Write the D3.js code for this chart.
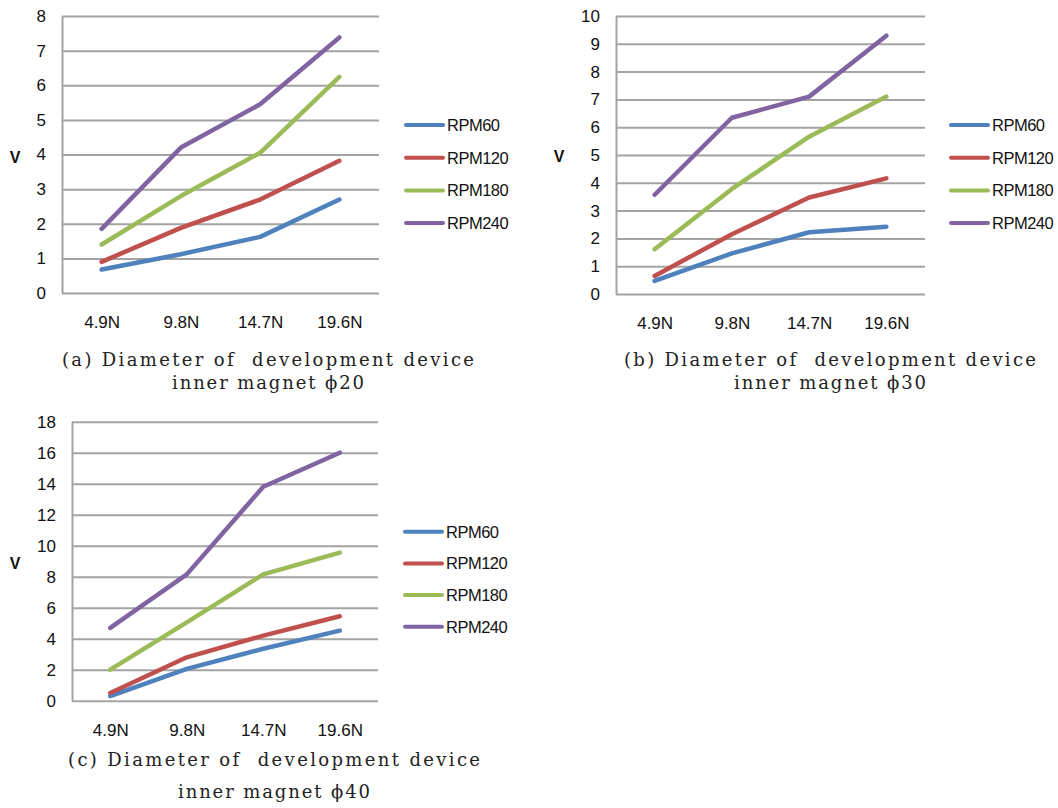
<!DOCTYPE html>
<html>
<head>
<meta charset="utf-8">
<script src="https://cdn.jsdelivr.net/npm/d3@7"></script>
<style>
  html, body { margin: 0; padding: 0; background: #ffffff; }
  svg { display: block; }
  .tick-label { font-family: "Liberation Sans", Arial, sans-serif; font-size: 17px; fill: #111; }
  .legend-label { font-family: "Liberation Sans", Arial, sans-serif; font-size: 16.5px; letter-spacing: -0.5px; fill: #111; }
  .axis-title { font-family: "Liberation Sans", Arial, sans-serif; font-size: 16px; font-weight: bold; fill: #111; }
  .caption { font-family: "DejaVu Serif", "Liberation Serif", serif; font-size: 18px; fill: #222; }
</style>
</head>
<body>
<svg id="chart" width="1058" height="808"></svg>
<script>
// Applied load on the x axis
const forces = ["4.9N", "9.8N", "14.7N", "19.6N"];
// Rotational speeds, one line per speed
const speeds = ["RPM60", "RPM120", "RPM180", "RPM240"];

// Output voltage (V) for the phi20 inner magnet, rows follow `speeds`
const voltsPhi20 = [
  [0.68, 1.12, 1.62, 2.70],
  [0.90, 1.88, 2.70, 3.82],
  [1.40, 2.80, 4.05, 6.24],
  [1.85, 4.20, 5.45, 7.38]
];
// Output voltage (V) for the phi30 inner magnet
const voltsPhi30 = [
  [0.47, 1.46, 2.22, 2.42],
  [0.65, 2.15, 3.47, 4.16],
  [1.61, 3.78, 5.66, 7.10],
  [3.57, 6.34, 7.10, 9.29]
];
// Output voltage (V) for the phi40 inner magnet
const voltsPhi40 = [
  [0.30, 2.05, 3.35, 4.52],
  [0.50, 2.80, 4.20, 5.45],
  [2.00, 5.05, 8.15, 9.55],
  [4.70, 8.15, 13.80, 16.00]
];

// Y axis tick values per panel
const ticksPhi20 = [0, 1, 2, 3, 4, 5, 6, 7, 8];
const ticksPhi30 = [0, 1, 2, 3, 4, 5, 6, 7, 8, 9, 10];
const ticksPhi40 = [0, 2, 4, 6, 8, 10, 12, 14, 16, 18];

// Panel captions
const captionPhi20 = ["(a) Diameter of  development device", "inner magnet \u03d520"];
const captionPhi30 = ["(b) Diameter of  development device", "inner magnet \u03d530"];
const captionPhi40 = ["(c) Diameter of  development device", "inner magnet \u03d540"];

// Series colours
const lineColors = ["#4f81bd", "#c0504d", "#9bbb59", "#8064a2"];
const gridColor = "#a3a3a3";

// Layout of each panel on the page
const panels = [
  { values: voltsPhi20, ticks: ticksPhi20, caption: captionPhi20,
    left: 62, right: 379, top: 16, bottom: 293,
    vx: 15, vy: 157,
    legX: 406, legY: 125, legStep: 32.7,
    capX: 268, capY: [366, 389] },
  { values: voltsPhi30, ticks: ticksPhi30, caption: captionPhi30,
    left: 616, right: 925, top: 16, bottom: 294,
    vx: 559, vy: 156,
    legX: 951, legY: 125, legStep: 32.7,
    capX: 830, capY: [366, 389] },
  { values: voltsPhi40, ticks: ticksPhi40, caption: captionPhi40,
    left: 72, right: 378, top: 421.7, bottom: 700.7,
    vx: 15, vy: 563,
    legX: 405, legY: 531.7, legStep: 31.7,
    capX: 274, capY: [766, 798] }
];

const svg = d3.select("#chart");

panels.forEach(p => {
  const g = svg.append("g");
  const width = p.right - p.left;

  const x = d3.scalePoint().domain(forces).range([p.left, p.right]).padding(0.5);
  const y = d3.scaleLinear()
    .domain([0, d3.max(p.ticks)])
    .range([p.bottom, p.top]);

  // Horizontal gridlines with the value labels on the left
  const yAxis = g.append("g")
    .attr("transform", `translate(${p.left},0)`)
    .call(d3.axisLeft(y).tickValues(p.ticks).tickSize(-width).tickSizeOuter(0).tickPadding(16));
  yAxis.attr("font-size", null).attr("font-family", null);
  yAxis.select(".domain").attr("stroke", gridColor).attr("stroke-width", 2);
  yAxis.selectAll(".tick line").attr("stroke", gridColor).attr("stroke-width", 2);
  yAxis.selectAll(".tick text").attr("class", "tick-label").attr("fill", "#111");

  // Category labels under the plot
  const xAxis = g.append("g")
    .attr("transform", `translate(0,${p.bottom})`)
    .call(d3.axisBottom(x).tickSize(0).tickPadding(23));
  xAxis.select(".domain").remove();
  xAxis.attr("font-size", null).attr("font-family", null);
  xAxis.selectAll(".tick text").attr("class", "tick-label").attr("fill", "#111");

  // Axis title
  g.append("text")
    .attr("class", "axis-title")
    .attr("x", p.vx)
    .attr("y", p.vy)
    .attr("text-anchor", "middle")
    .attr("dominant-baseline", "central")
    .text("V");

  // Data lines
  const line = d3.line()
    .x((d, i) => x(forces[i]))
    .y(d => y(d));

  g.append("g")
    .selectAll("path")
    .data(p.values)
    .join("path")
    .attr("d", line)
    .attr("fill", "none")
    .attr("stroke", (d, i) => lineColors[i])
    .attr("stroke-width", 4.5)
    .attr("stroke-linejoin", "round")
    .attr("stroke-linecap", "round");

  // Legend
  const leg = g.append("g")
    .selectAll("g")
    .data(speeds)
    .join("g")
    .attr("transform", (d, i) => `translate(${p.legX},${p.legY + i * p.legStep})`);
  leg.append("line")
    .attr("x1", 0).attr("x2", 37)
    .attr("y1", 0).attr("y2", 0)
    .attr("stroke", (d, i) => lineColors[i])
    .attr("stroke-width", 4)
    .attr("stroke-linecap", "round");
  leg.append("text")
    .attr("class", "legend-label")
    .attr("x", 41)
    .attr("y", 0)
    .attr("dominant-baseline", "central")
    .text(d => d);

  // Caption below the panel
  const capWidths = [412, 192];
  g.append("g")
    .selectAll("text")
    .data(p.caption)
    .join("text")
    .attr("class", "caption")
    .attr("x", p.capX)
    .attr("y", (d, i) => p.capY[i])
    .attr("text-anchor", "middle")
    .attr("textLength", (d, i) => capWidths[i])
    .attr("lengthAdjust", "spacing")
    .style("white-space", "pre")
    .text(d => d);
});
</script>
</body>
</html>
